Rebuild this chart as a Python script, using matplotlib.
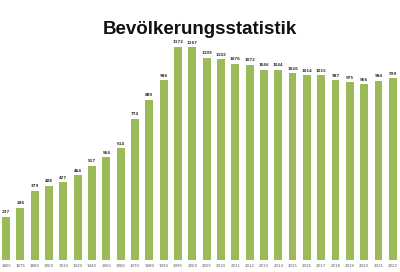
import matplotlib.pyplot as plt

YEARS = [
    "1865", "1875", "1880", "1900", "1910", "1920", "1940", "1950", "1960",
    "1970", "1980", "1990", "1995", "2000", "2005", "2010", "2011", "2012",
    "2013", "2014", "2015", "2016", "2017", "2018", "2019", "2020", "2021",
    "2022",
]
POPULATION = [
    237, 286, 379, 408, 427, 464, 517, 564, 614,
    774, 880, 986, 1172, 1167, 1109, 1102, 1076, 1072,
    1046, 1044, 1026, 1014, 1015, 987, 975, 966, 984,
    999,
]

BAR_COLOR = "#9bbb59"

fig = plt.figure(figsize=(4.0, 2.72), dpi=100)
ax = fig.add_axes([0.0, 12 / 272, 1.0, 220 / 272])

x = list(range(len(YEARS)))
bars = ax.bar(x, POPULATION, width=0.55, color=BAR_COLOR)

for xi, val in zip(x, POPULATION):
    ax.text(xi, val + 14, str(val), ha="center", va="bottom",
            fontsize=2.8, fontweight="bold", color="#333333")

ax.set_xlim(-0.42, len(YEARS) - 0.5)
ax.set_ylim(0, 1208)
ax.set_xticks(x)
ax.set_xticklabels(YEARS, fontsize=2.8, color="#555555")
ax.tick_params(axis="x", length=0, pad=3)
ax.set_yticks([])
for side in ["top", "right", "left", "bottom"]:
    ax.spines[side].set_visible(False)

fig.text(0.5, 1 - 34 / 272, "Bevölkerungsstatistik", ha="center",
         va="baseline", fontsize=13.5, fontweight="bold",
         family="Liberation Sans", color="#111111")

fig.savefig("out.png", dpi=100)
